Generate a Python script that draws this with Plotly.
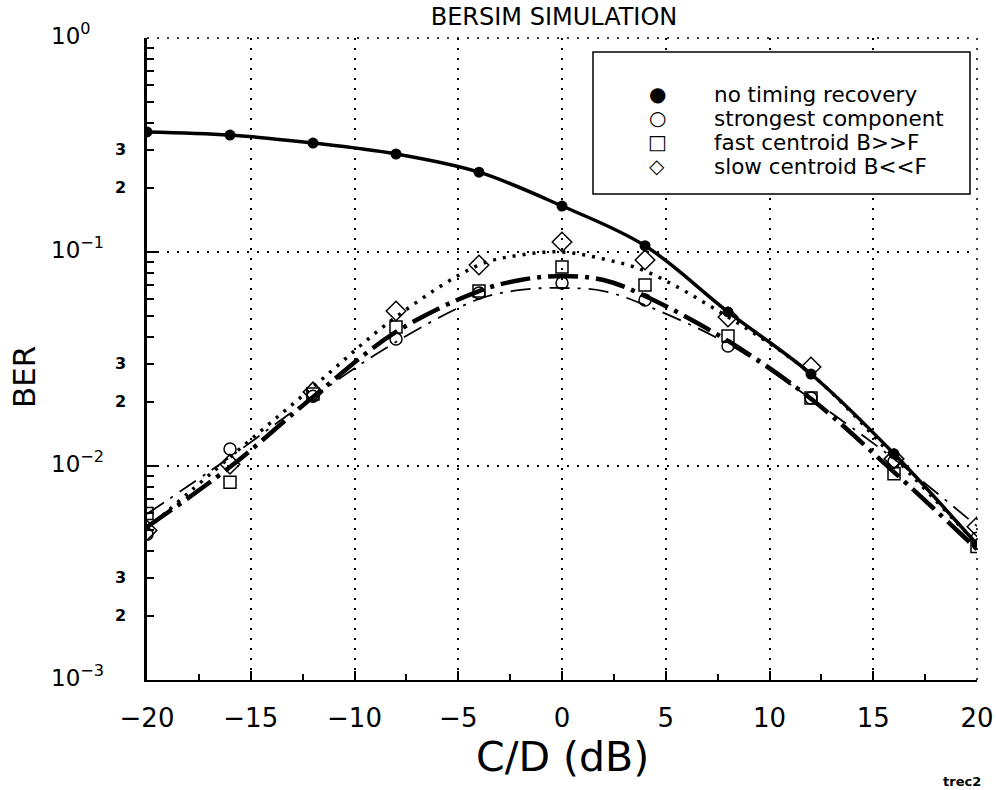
import math
import plotly.graph_objects as go

# Measured BER at each C/D setting (dB)
cd_db = [-20, -16, -12, -8, -4, 0, 4, 8, 12, 16, 20]
ber_no_timing = [0.364, 0.352, 0.323, 0.287, 0.236, 0.164, 0.107, 0.0525, 0.0269, 0.0114, 0.0043]
ber_strongest = [0.0048, 0.0120, 0.0212, 0.0392, 0.0643, 0.0717, 0.0597, 0.0364, 0.0208, 0.0105, 0.0046]
ber_fast = [0.0060, 0.0084, 0.0217, 0.0446, 0.0657, 0.0851, 0.0701, 0.0405, 0.0208, 0.0092, 0.0042]
ber_slow = [0.0050, 0.0102, 0.0222, 0.0530, 0.0870, 0.1114, 0.0918, 0.0497, 0.0290, 0.0108, 0.0052]

# Smoothed fit curves for the timing-recovery schemes
cd_fit = [-20, -16, -12, -8, -4, -2, 0, 2, 4, 8, 12, 16, 20]
fit_strongest = [0.00597, 0.0110, 0.0210, 0.0380, 0.0603, 0.0665, 0.0679, 0.0657, 0.0565, 0.0372, 0.0206, 0.0108, 0.00524]
fit_fast = [0.00519, 0.00989, 0.0210, 0.0423, 0.0657, 0.0740, 0.0773, 0.0740, 0.0623, 0.0384, 0.0206, 0.00937, 0.00409]
fit_slow = [0.00508, 0.0110, 0.0234, 0.0497, 0.0869, 0.0968, 0.1000, 0.0927, 0.0815, 0.0497, 0.0269, 0.0110, 0.00432]

legend_symbols = ["\u25cf", "\u25cb", "\u25a1", "\u25c7"]
legend_labels = ["no timing recovery", "strongest component",
                 "fast centroid B>>F", "slow centroid B<<F"]

y_major_labels = ["10<sup>0</sup>", "10<sup>\u22121</sup>", "10<sup>\u22122</sup>", "10<sup>\u22123</sup>"]
y_major_vals = [1.0, 0.1, 0.01, 0.001]
y_minor_labeled = [0.3, 0.2, 0.03, 0.02, 0.003, 0.002]

FONT = "DejaVu Sans"
W, H = 996, 790
L, R, T, B = 147, 19, 38, 110
PW, PH = W - L - R, H - T - B
DOTS = "2px,8px"


def px(xp):
    return (xp - L) / PW


def py(yp):
    return 1 - (yp - T) / PH


fig = go.Figure()

fig.add_trace(go.Scatter(
    x=cd_db, y=ber_no_timing, mode="lines+markers",
    line=dict(color="black", width=3.5, shape="spline"),
    marker=dict(symbol="circle", size=11, color="black"),
    showlegend=False))

fig.add_trace(go.Scatter(
    x=cd_fit, y=fit_strongest, mode="lines",
    line=dict(color="black", width=1.8, dash="20px,8px,3px,8px", shape="spline"),
    showlegend=False))
fig.add_trace(go.Scatter(
    x=cd_fit, y=fit_fast, mode="lines",
    line=dict(color="black", width=4.5, dash="30px,7px,4px,7px", shape="spline"),
    showlegend=False))
fig.add_trace(go.Scatter(
    x=cd_fit, y=fit_slow, mode="lines",
    line=dict(color="black", width=3.5, dash="3px,7px", shape="spline"),
    showlegend=False))

for vals, sym, size in [(ber_strongest, "circle-open", 12),
                        (ber_fast, "square-open", 12),
                        (ber_slow, "diamond-open", 15)]:
    fig.add_trace(go.Scatter(
        x=cd_db, y=vals, mode="markers",
        marker=dict(symbol=sym, size=size, color="black", line=dict(width=1.5, color="black")),
        showlegend=False))

grid_style = dict(showgrid=True, gridcolor="black", gridwidth=1.5, griddash=DOTS)

minor_y = [k * 10 ** e for e in (-3, -2, -1) for k in range(2, 10)]

fig.update_layout(
    width=W, height=H, autosize=False,
    margin=dict(l=L, r=R, t=T, b=B, autoexpand=False),
    paper_bgcolor="white", plot_bgcolor="white",
    font=dict(family=FONT, color="black"),
    title=dict(text="BERSIM SIMULATION", font=dict(family=FONT, size=24, color="black"),
               x=554 / W, xref="container", xanchor="center",
               y=1 - 17 / H, yref="container", yanchor="middle"),
    xaxis=dict(range=[-20, 20], tick0=0, dtick=5, ticks="inside", ticklen=9, tickwidth=1.5,
               tickcolor="black", showline=True, linewidth=2, linecolor="black",
               zeroline=False, tickfont=dict(family=FONT, size=26, color="black"),
               ticklabelstandoff=14, automargin=False,
               minor=dict(dtick=2.5, ticks="inside", ticklen=6, tickwidth=1.5,
                          tickcolor="black", showgrid=False),
               **grid_style),
    yaxis=dict(type="log", range=[-3, 0], tickvals=y_major_vals, ticks="inside",
               ticklen=10, tickwidth=1.5, tickcolor="black", showticklabels=False,
               showline=True, linewidth=2.5, linecolor="black", zeroline=False,
               automargin=False,
               minor=dict(tickvals=minor_y, ticks="inside", ticklen=7, tickwidth=1.5,
                          tickcolor="black", showgrid=False),
               **grid_style),
)

annotations = []
for txt, v in zip(y_major_labels, y_major_vals):
    annotations.append(dict(text=txt, xref="paper", x=0, xanchor="left", xshift=49 - L,
                            yref="y", y=math.log10(v), yanchor="middle", yshift=4,
                            showarrow=False, font=dict(family=FONT, size=23, color="black")))
for v in y_minor_labeled:
    annotations.append(dict(text="<b>%d</b>" % round(v / 10 ** math.floor(math.log10(v))),
                            xref="paper", x=0, xanchor="right", xshift=-19,
                            yref="y", y=math.log10(v), yanchor="middle",
                            showarrow=False, font=dict(family=FONT, size=16, color="black")))

annotations.append(dict(text="C/D (dB)", xref="paper", x=px(562), yref="paper", y=py(757),
                        xanchor="center", yanchor="middle", showarrow=False,
                        font=dict(family=FONT, size=41, color="black")))
annotations.append(dict(text="BER", xref="paper", x=px(24), yref="paper", y=py(377),
                        xanchor="center", yanchor="middle", textangle=-90, showarrow=False,
                        font=dict(family=FONT, size=31, color="black")))
annotations.append(dict(text="<b>trec2</b>", xref="paper", x=px(962), yref="paper", y=py(781),
                        xanchor="center", yanchor="middle", showarrow=False,
                        font=dict(family=FONT, size=13, color="black")))

row_y = [94, 118, 142, 166]
for sym, lab, ry in zip(legend_symbols, legend_labels, row_y):
    annotations.append(dict(text=sym, xref="paper", x=px(657), yref="paper", y=py(ry),
                            xanchor="center", yanchor="middle", showarrow=False,
                            font=dict(family=FONT, size=20, color="black")))
    annotations.append(dict(text=lab, xref="paper", x=px(712), yref="paper", y=py(ry),
                            xanchor="left", yanchor="middle", showarrow=False,
                            font=dict(family=FONT, size=21.5, color="black")))

fig.update_layout(annotations=annotations)

# dotted frame along the top and right edges of the plotting area
fig.add_shape(type="line", xref="paper", yref="paper", x0=0, x1=1, y0=1, y1=1,
              line=dict(color="black", width=1.5, dash=DOTS))
fig.add_shape(type="line", xref="paper", yref="paper", x0=1, x1=1, y0=0, y1=1,
              line=dict(color="black", width=1.5, dash=DOTS))

fig.add_shape(type="rect", xref="paper", yref="paper",
              x0=px(593), x1=px(970), y0=py(52), y1=py(194),
              line=dict(color="black", width=1.5), fillcolor="white", layer="above")

fig.write_html("out.html")
